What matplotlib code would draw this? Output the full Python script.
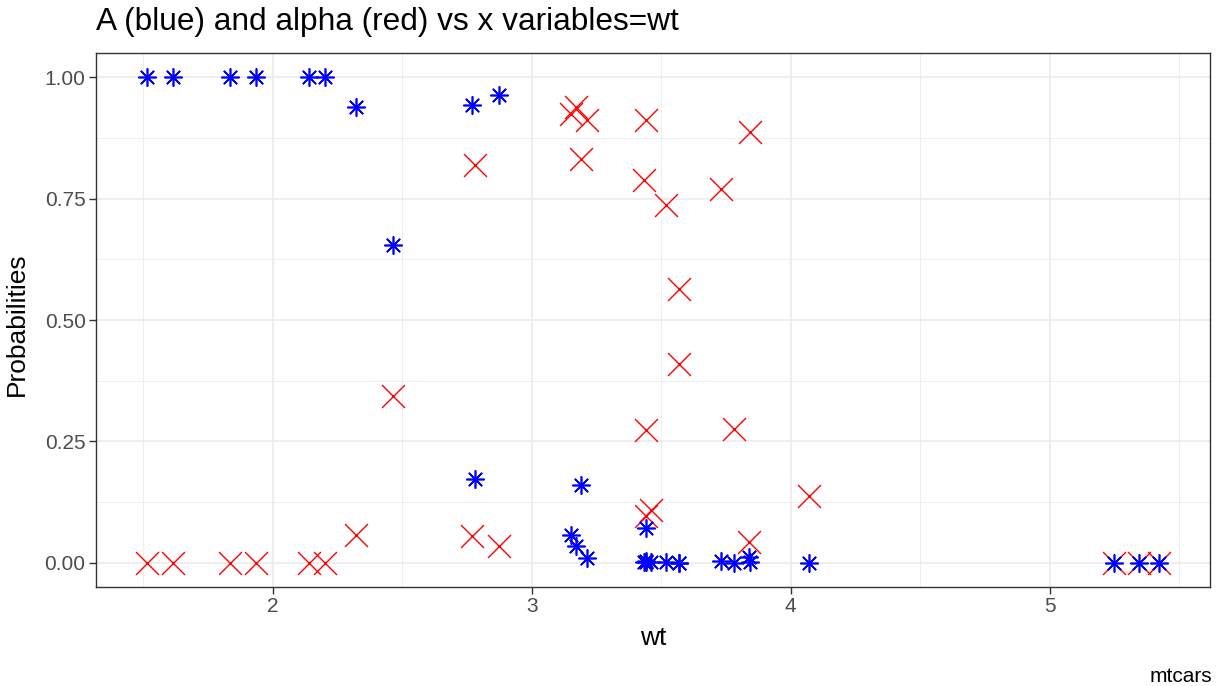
import matplotlib
matplotlib.use("Agg")
import matplotlib.pyplot as plt
from matplotlib.ticker import FixedLocator

plt.rcParams['font.family'] = ['Liberation Sans', 'DejaVu Sans']

# mtcars weight (1000 lbs) per car
cars = ["Mazda RX4 Wag", "Datsun 710", "Hornet 4 Drive", "Hornet Sportabout", "Valiant",
        "Duster 360", "Merc 240D", "Merc 230", "Merc 280", "Merc 280C", "Merc 450SE",
        "Merc 450SL", "Merc 450SLC", "Cadillac Fleetwood", "Lincoln Continental",
        "Chrysler Imperial", "Fiat 128", "Honda Civic", "Toyota Corolla", "Toyota Corona",
        "Dodge Challenger", "AMC Javelin", "Camaro Z28", "Pontiac Firebird", "Fiat X1-9",
        "Porsche 914-2", "Lotus Europa", "Ford Pantera L", "Ferrari Dino", "Maserati Bora",
        "Volvo 142E"]
wt = [2.875, 2.320, 3.215, 3.440, 3.460, 3.570, 3.190, 3.150, 3.440, 3.440, 4.070,
      3.730, 3.780, 5.250, 5.424, 5.345, 2.200, 1.615, 1.835, 2.465, 3.520, 3.435,
      3.840, 3.845, 1.935, 2.140, 1.513, 3.170, 2.770, 3.570, 2.780]
# probability of class A
prob_A = [0.963, 0.938, 0.010, 0.002, 0.001, 0.000, 0.161, 0.057, 0.071, 0.004, 0.000,
          0.003, 0.000, 0.000, 0.000, 0.000, 1.000, 1.000, 1.000, 0.654, 0.001, 0.002,
          0.011, 0.002, 1.000, 1.000, 1.000, 0.035, 0.942, 0.000, 0.172]
# probability of class alpha
prob_alpha = [0.034, 0.058, 0.911, 0.913, 0.109, 0.563, 0.831, 0.925, 0.274, 0.097, 0.137,
              0.770, 0.276, 0.000, 0.000, 0.000, 0.000, 0.000, 0.000, 0.344, 0.736, 0.789,
              0.043, 0.887, 0.000, 0.000, 0.000, 0.939, 0.055, 0.410, 0.820]

x_ticks = [2, 3, 4, 5]
y_ticks = [0.0, 0.25, 0.50, 0.75, 1.00]
y_tick_labels = ["0.00", "0.25", "0.50", "0.75", "1.00"]

W, H = 1226, 686
fig = plt.figure(figsize=(W / 100, H / 100), dpi=100)
ax = fig.add_axes([96 / W, 1 - 587 / H, (1210 - 96) / W, (587 - 53) / H])

ax.scatter(wt, prob_alpha, marker='x', s=16.5 ** 2, color='red', linewidths=1.0, zorder=3)
ax.scatter(wt, prob_A, marker=(8, 2, 0), s=12.5 ** 2, color='blue', linewidths=1.2, zorder=4)

# axis limits with 5% padding as in ggplot
xmin, xmax = min(wt), max(wt)
pad = 0.05 * (xmax - xmin)
ax.set_xlim(xmin - pad, xmax + pad)
ax.set_ylim(-0.05, 1.05)

ax.xaxis.set_major_locator(FixedLocator(x_ticks))
ax.xaxis.set_minor_locator(FixedLocator([1.5, 2.5, 3.5, 4.5, 5.5]))
ax.set_yticks(y_ticks)
ax.set_yticklabels(y_tick_labels)
ax.yaxis.set_minor_locator(FixedLocator([0.125, 0.375, 0.625, 0.875]))

ax.grid(which='major', color='#EBEBEB', linewidth=1.2, zorder=0)
ax.grid(which='minor', color='#EBEBEB', linewidth=0.6, zorder=0)
ax.set_axisbelow(True)

for sp in ax.spines.values():
    sp.set_color('#333333')
    sp.set_linewidth(1.0)

ax.tick_params(which='major', length=5.0, width=1.0, color='#333333',
               labelcolor='#4D4D4D', labelsize=15, pad=2.5)
ax.tick_params(which='minor', length=0)

fig.text(653 / W, 1 - 638 / H, "wt", fontsize=19, ha='center', va='center', color='black')
fig.text(17 / W, 1 - 324 / H, "Probabilities", fontsize=19, rotation=90,
         ha='center', va='center', color='black')

fig.text(96 / W, 1 - 22 / H, "A (blue) and alpha (red) vs x variables=wt",
         fontsize=22.8, ha='left', va='center', color='black')
fig.text(1212 / W, 1 - 676 / H, "mtcars", fontsize=15, ha='right', va='center',
         color='black')

fig.savefig("out.png", dpi=100)
